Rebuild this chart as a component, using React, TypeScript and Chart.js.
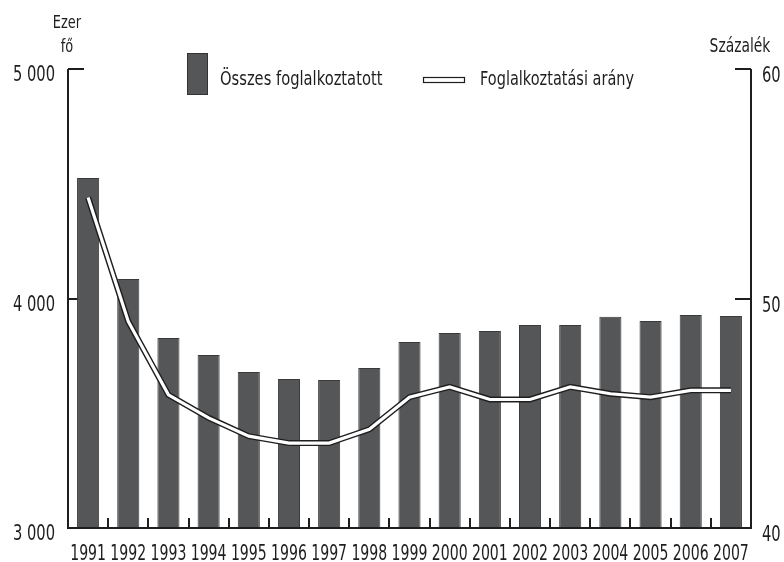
import React, { useEffect, useRef } from "react";
import { Chart, registerables } from "chart.js";

Chart.register(...registerables);

const years = ["1991", "1992", "1993", "1994", "1995", "1996", "1997", "1998", "1999", "2000", "2001", "2002", "2003", "2004", "2005", "2006", "2007"];
const employed = [4525, 4085, 3828, 3754, 3680, 3649, 3645, 3697, 3810, 3850, 3858, 3885, 3885, 3920, 3902, 3928, 3924];
const employmentRate = [54.4, 49.0, 45.8, 44.8, 44.0, 43.7, 43.7, 44.3, 45.7, 46.15, 45.6, 45.6, 46.15, 45.85, 45.7, 46.0, 46.0];
const leftTicks = [3000, 4000, 5000];
const rightTicks = [40, 50, 60];
const barLabel = "Összes foglalkoztatott";
const lineLabel = "Foglalkoztatási arány";
const leftTitle = ["Ezer", "fő"];
const rightTitle = "Százalék";

const FONT = "'DejaVu Sans', 'Liberation Sans', sans-serif";
const INK = "#1e1e1e";
const BAR = "#545658";

const fmt = (v: number) => String(v).replace(/\B(?=(\d{3})+(?!\d))/g, " ");

// text is drawn horizontally condensed to imitate the reference's narrow typeface
function txt(ctx: CanvasRenderingContext2D, s: string, x: number, y: number, align: CanvasTextAlign, size: number, sx: number) {
  ctx.save();
  ctx.translate(x, y);
  ctx.scale(sx, 1);
  ctx.font = `${size}px ${FONT}`;
  ctx.textAlign = align;
  ctx.textBaseline = "alphabetic";
  ctx.fillStyle = INK;
  ctx.fillText(s, 0, 0);
  ctx.restore();
}

const decorPlugin = {
  id: "decor",
  beforeDatasetsDraw(chart: any) {
    const { ctx, chartArea: a, scales } = chart;
    ctx.save();
    ctx.strokeStyle = INK;
    ctx.lineWidth = 2;
    ctx.beginPath();
    leftTicks.forEach((t) => {
      const y = Math.round(scales.y.getPixelForValue(t));
      ctx.moveTo(a.left, y);
      ctx.lineTo(a.left + 16, y);
    });
    rightTicks.forEach((t) => {
      const y = Math.round(scales.y1.getPixelForValue(t));
      ctx.moveTo(a.right, y);
      ctx.lineTo(a.right - 16, y);
    });
    const xs = scales.x;
    for (let i = 1; i < years.length; i++) {
      const x = Math.round((xs.getPixelForValue(i - 1) + xs.getPixelForValue(i)) / 2);
      ctx.moveTo(x, a.bottom);
      ctx.lineTo(x, a.bottom - 10);
    }
    ctx.stroke();
    ctx.restore();
  },
  afterDatasetsDraw(chart: any) {
    const { ctx, chartArea: a } = chart;
    ctx.save();
    ctx.strokeStyle = INK;
    ctx.lineWidth = 2;
    ctx.beginPath();
    ctx.moveTo(a.left, a.top);
    ctx.lineTo(a.left, a.bottom);
    ctx.lineTo(a.right, a.bottom);
    ctx.lineTo(a.right, a.top);
    ctx.stroke();
    ctx.restore();
  },
  afterDraw(chart: any) {
    const { ctx, chartArea: a, scales } = chart;
    leftTicks.forEach((t) => {
      const y = scales.y.getPixelForValue(t);
      txt(ctx, fmt(t), a.left - 13, y + 12, "right", 21, 0.7);
    });
    rightTicks.forEach((t) => {
      const y = scales.y1.getPixelForValue(t);
      txt(ctx, String(t), a.right + 11, y + 13, "left", 21, 0.7);
    });
    years.forEach((yr, i) => {
      const x = scales.x.getPixelForValue(i);
      txt(ctx, yr, x, a.bottom + 32, "center", 21, 0.67);
    });
    txt(ctx, leftTitle[0], a.left - 1, 28, "center", 18, 0.72);
    txt(ctx, leftTitle[1], a.left - 1, 52, "center", 18, 0.72);
    txt(ctx, rightTitle, a.right - 11, 52, "center", 19, 0.73);

    ctx.save();
    const bx = a.left + 119;
    ctx.fillStyle = BAR;
    ctx.strokeStyle = "#333";
    ctx.lineWidth = 1;
    ctx.fillRect(bx, 53, 21, 42);
    ctx.strokeRect(bx + 0.5, 53.5, 20, 41);
    const lx = a.left + 355;
    ctx.fillStyle = "#ffffff";
    ctx.fillRect(lx, 78, 42, 5);
    ctx.strokeStyle = INK;
    ctx.lineWidth = 1.2;
    ctx.strokeRect(lx + 0.5, 77.5, 41, 5);
    ctx.restore();
    txt(ctx, barLabel, bx + 33, 85, "left", 20, 0.735);
    txt(ctx, lineLabel, lx + 57, 85, "left", 20, 0.725);
  },
};

export default function App() {
  const ref = useRef<HTMLCanvasElement | null>(null);
  useEffect(() => {
    if (!ref.current) return;
    const chart = new Chart(ref.current, {
      type: "bar",
      data: {
        labels: years,
        datasets: [
          {
            type: "line",
            label: lineLabel,
            data: employmentRate,
            yAxisID: "y1",
            borderColor: "#ffffff",
            borderWidth: 3.2,
            pointRadius: 0,
            tension: 0,
            borderCapStyle: "butt",
            borderJoinStyle: "miter",
            order: 0,
          } as any,
          {
            type: "line",
            label: "outline",
            data: employmentRate,
            yAxisID: "y1",
            borderColor: INK,
            borderWidth: 6,
            pointRadius: 0,
            tension: 0,
            borderCapStyle: "butt",
            borderJoinStyle: "miter",
            order: 1,
          } as any,
          {
            type: "bar",
            label: barLabel,
            data: employed,
            yAxisID: "y",
            backgroundColor: BAR,
            borderColor: "#3a3a3a",
            borderWidth: 1,
            barPercentage: 0.55,
            categoryPercentage: 1,
            order: 2,
          },
        ],
      },
      options: {
        animation: false,
        responsive: true,
        maintainAspectRatio: false,
        layout: { padding: { top: 69, left: 0, right: 0, bottom: 0 } },
        plugins: { legend: { display: false }, tooltip: { enabled: false } },
        scales: {
          x: {
            grid: { display: false },
            border: { display: false },
            ticks: { display: false },
            afterFit: (s: any) => { s.height = 34; },
          },
          y: {
            position: "left",
            min: 3000,
            max: 5000,
            grid: { display: false },
            border: { display: false },
            ticks: { display: false },
            afterFit: (s: any) => { s.width = 68; },
          },
          y1: {
            position: "right",
            min: 40,
            max: 60,
            grid: { display: false },
            border: { display: false },
            ticks: { display: false },
            afterFit: (s: any) => { s.width = 33; },
          },
        },
      },
      plugins: [decorPlugin],
    });
    return () => chart.destroy();
  }, []);
  return (
    <div style={{ position: "fixed", left: 0, top: 0, width: 784, height: 562, background: "#fff" }}>
      <canvas ref={ref} />
    </div>
  );
}
